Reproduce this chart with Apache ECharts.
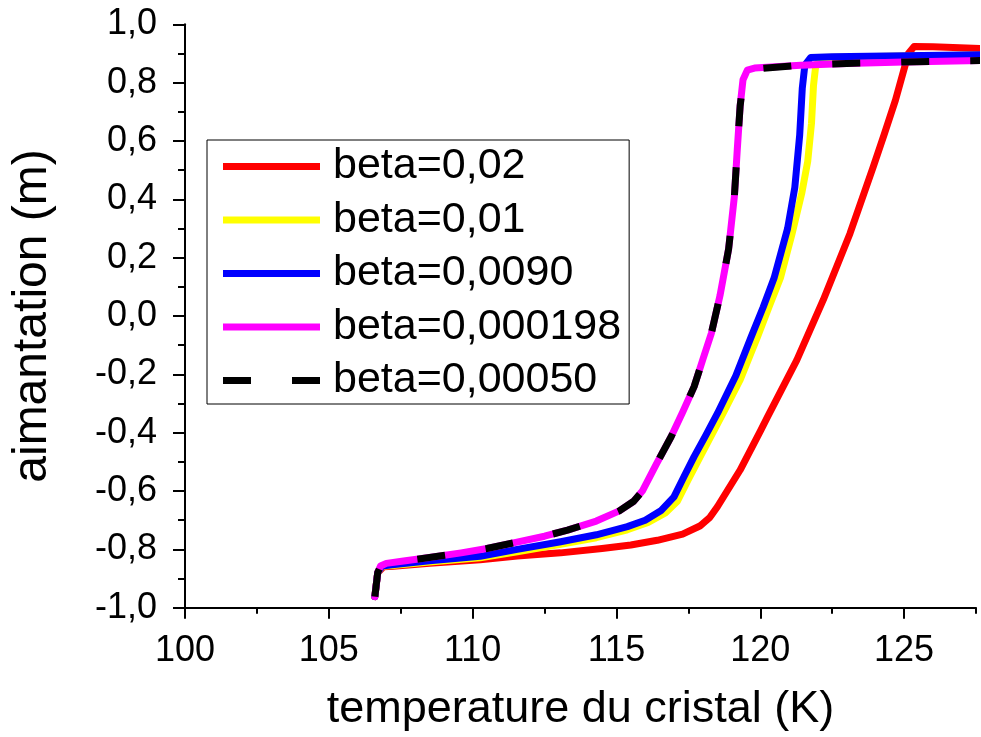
<!DOCTYPE html>
<html>
<head>
<meta charset="utf-8">
<script src="https://cdn.jsdelivr.net/npm/echarts@6/dist/echarts.min.js"></script>
<style>
html,body{margin:0;padding:0;background:#fff;}
#c{width:981px;height:737px;}
</style>
</head>
<body>
<div id="c"></div>
<script>
// ---- data (temperature K, magnetization m) ----
const seriesNames = ['beta=0,02', 'beta=0,01', 'beta=0,0090', 'beta=0,000198', 'beta=0,00050'];
const seriesColors = ['#ff0000', '#ffff00', '#0000ff', '#ff00ff', '#000000'];

const red002 = [
  [106.6,-0.962],[106.7,-0.88],[106.9,-0.86],[107.24,-0.858],[108.5,-0.848],[110.26,-0.836],
  [111.55,-0.823],[113.06,-0.812],[114.5,-0.797],[115.5,-0.785],[116.42,-0.769],[117.3,-0.748],
  [117.9,-0.72],[118.25,-0.69],[118.51,-0.654],[119.3,-0.528],[120.02,-0.391],[120.23,-0.35],
  [121.27,-0.151],[122.19,0.055],[123.12,0.283],[123.93,0.512],[124.3,0.62],[124.7,0.74],
  [125.01,0.85],[125.15,0.9],[125.35,0.924],[126.0,0.923],[127.7,0.917]
];
const yellow001 = [
  [106.6,-0.962],[106.7,-0.88],[106.85,-0.858],[107.2,-0.855],[108.5,-0.843],[110.26,-0.829],
  [111.55,-0.808],[113.06,-0.783],[114.3,-0.76],[115.38,-0.733],[116.1,-0.708],[116.7,-0.675],
  [117.12,-0.635],[117.5,-0.56],[117.9,-0.485],[118.7,-0.335],[119.3,-0.219],[119.91,-0.07],
  [120.3,0.03],[120.7,0.13],[121.1,0.28],[121.44,0.42],[121.65,0.53],[121.78,0.66],
  [121.85,0.79],[121.93,0.86],[122.15,0.886],[123.0,0.888],[125.0,0.891],[127.7,0.895]
];
const blue0090 = [
  [106.6,-0.962],[106.7,-0.88],[106.85,-0.857],[107.2,-0.853],[108.5,-0.839],[110.26,-0.824],
  [111.55,-0.800],[113.06,-0.774],[114.3,-0.750],[115.38,-0.722],[116.0,-0.70],[116.54,-0.668],
  [117.0,-0.62],[117.35,-0.55],[117.7,-0.482],[118.1,-0.41],[118.51,-0.334],[119.15,-0.205],
  [119.67,-0.075],[120.1,0.03],[120.48,0.13],[120.95,0.30],[121.2,0.44],[121.37,0.62],
  [121.46,0.78],[121.55,0.86],[121.75,0.886],[122.5,0.889],[125.0,0.892],[127.7,0.896]
];
const magenta000198 = [
  [106.6,-0.962],[106.7,-0.88],[106.8,-0.857],[107.0,-0.848],[107.6,-0.840],[108.5,-0.828],
  [109.6,-0.812],[110.5,-0.797],[111.5,-0.776],[112.5,-0.755],[113.3,-0.734],[114.3,-0.703],
  [115.1,-0.668],[115.6,-0.635],[115.9,-0.600],[116.4,-0.505],[116.9,-0.414],[117.3,-0.33],
  [117.7,-0.242],[118.0,-0.15],[118.3,-0.059],[118.6,0.07],[118.9,0.23],[119.1,0.41],
  [119.2,0.57],[119.3,0.72],[119.4,0.81],[119.55,0.843],[119.8,0.850],[121.4,0.860],
  [123.0,0.866],[125.0,0.871],[127.7,0.876]
];
const black00050 = [
  [106.6,-0.962],[106.7,-0.88],[106.8,-0.857],[107.0,-0.848],[107.6,-0.840],[108.5,-0.828],
  [109.6,-0.812],[110.5,-0.797],[111.5,-0.776],[112.5,-0.755],[113.3,-0.734],[114.3,-0.703],
  [115.1,-0.668],[115.6,-0.635],[115.9,-0.600],[116.4,-0.505],[116.9,-0.414],[117.3,-0.33],
  [117.7,-0.242],[118.0,-0.15],[118.3,-0.059],[118.6,0.07],[118.9,0.23],[119.1,0.41],
  [119.2,0.57],[119.3,0.72],[119.38,0.785],[119.5,0.815],[120.1,0.849],[121.4,0.860],
  [123.0,0.866],[125.0,0.871],[127.7,0.876]
];
const seriesData = [red002, yellow001, blue0090, magenta000198, black00050];

const xMin = 100, xMax = 127.5, xMajor = 5, xMinor = 2.5;
const xMajorTicks = [100, 105, 110, 115, 120, 125];
const yMin = -1, yMax = 1, yInterval = 0.2;
const xTitle = 'temperature du cristal (K)';
const yTitle = 'aimantation (m)';

const FONT = '"Liberation Sans", Arial, sans-serif';
const DASH = [28, 41];

const chart = echarts.init(document.getElementById('c'), null, {renderer: 'canvas'});

const series = seriesNames.map((name, i) => ({
  name: name,
  type: 'line',
  data: seriesData[i],
  showSymbol: false,
  symbol: 'none',
  clip: false,
  animation: false,
  color: seriesColors[i],
  lineStyle: {
    color: seriesColors[i],
    width: 7,
    type: i === 4 ? DASH : 'solid',
    join: 'round',
    cap: i === 4 ? 'butt' : 'round'
  },
  z: 2 + i
}));

const legendData = seriesNames.map((name, i) => ({
  name: name,
  icon: i === 4 ? 'path://M0 0H28V7H0Z M69 0H97V7H69Z' : 'rect'
}));

const option = {
  animation: false,
  backgroundColor: '#fff',
  textStyle: {fontFamily: FONT, color: '#000'},
  grid: {left: 185, right: 5, top: 24.3, bottom: 129.3, containLabel: false},
  legend: {
    show: true,
    orient: 'vertical',
    left: 207,
    top: 140,
    data: legendData,
    itemWidth: 97,
    itemHeight: 7,
    itemGap: 10.5,
    padding: [5, 8, 2, 16],
    borderColor: '#000',
    borderWidth: 1,
    borderRadius: 0,
    backgroundColor: '#fff',
    selectedMode: false,
    itemStyle: {borderWidth: 0},
    textStyle: {fontFamily: FONT, fontSize: 43, color: '#000', lineHeight: 43, padding: [0, 0, 0, 8]}
  },
  xAxis: [
    {
      type: 'value', min: xMin, max: xMax, interval: xMinor,
      position: 'bottom',
      axisLine: {show: true, onZero: false, lineStyle: {color: '#000', width: 2}},
      axisTick: {show: true, length: 6, lineStyle: {color: '#000', width: 2}},
      splitLine: {show: false},
      axisLabel: {
        show: true, margin: 25, fontFamily: FONT, fontSize: 36, color: '#000',
        formatter: v => (Math.abs(v / xMajor - Math.round(v / xMajor)) < 1e-6 && v <= 125) ? String(v) : ''
      },
      name: xTitle, nameLocation: 'middle', nameGap: 79,
      nameTextStyle: {fontFamily: FONT, fontSize: 45, color: '#000'}
    },
    {
      type: 'value', min: xMin, max: xMax, interval: xMajor,
      position: 'bottom',
      axisLine: {show: false, onZero: false},
      axisTick: {show: true, length: 11, lineStyle: {color: '#000', width: 2}, customValues: xMajorTicks},
      axisLabel: {show: false},
      splitLine: {show: false}
    }
  ],
  yAxis: [{
    type: 'value', min: yMin, max: yMax, interval: yInterval,
    position: 'left',
    axisLine: {show: true, onZero: false, lineStyle: {color: '#000', width: 2}},
    axisTick: {show: true, length: 12, lineStyle: {color: '#000', width: 2}},
    minorTick: {show: true, splitNumber: 2, length: 7, lineStyle: {color: '#000', width: 2}},
    splitLine: {show: false},
    axisLabel: {
      show: true, margin: 28, fontFamily: FONT, fontSize: 36, color: '#000',
      formatter: v => v.toFixed(1).replace('.', ',')
    },
    name: yTitle, nameLocation: 'middle', nameGap: 128, nameRotate: 90,
    nameTextStyle: {fontFamily: FONT, fontSize: 48, color: '#000'}
  }],
  series: series
};
chart.setOption(option);
</script>
</body>
</html>
